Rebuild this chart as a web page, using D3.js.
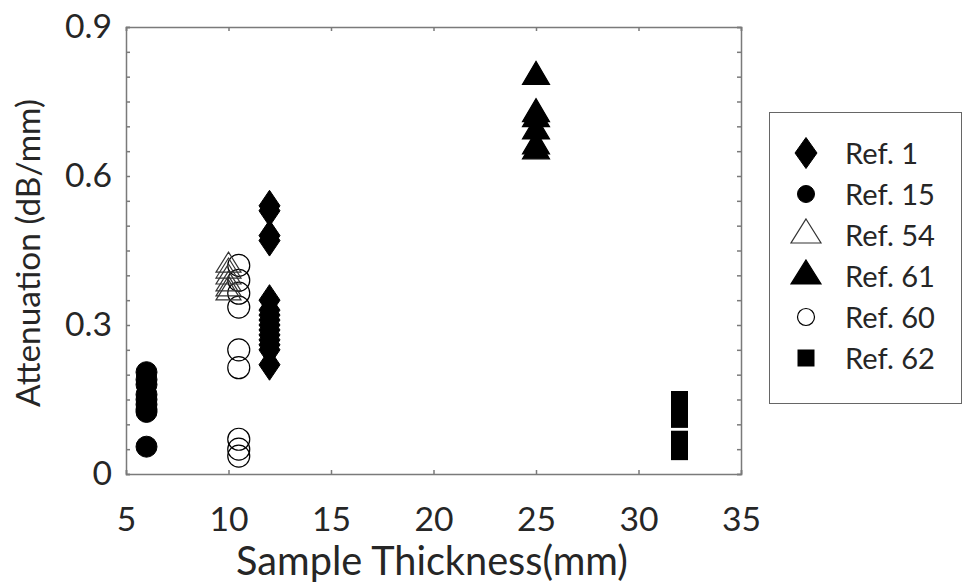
<!DOCTYPE html>
<html>
<head>
<meta charset="utf-8">
<script src="https://cdn.jsdelivr.net/npm/d3@7"></script>
<style>
  body { margin: 0; background: #fff; }
  text { font-family: Lato, "Noto Sans", sans-serif; fill: #262626; }
</style>
</head>
<body>
<script>
// data
var refNames = ['Ref. 1', 'Ref. 15', 'Ref. 54', 'Ref. 61', 'Ref. 60', 'Ref. 62']
var ref1X = 12
var ref1Y = [0.54, 0.53, 0.48, 0.47, 0.35, 0.33, 0.32, 0.31, 0.30, 0.29, 0.28, 0.27, 0.26, 0.25, 0.22]
var ref15X = 6
var ref15Y = [0.205, 0.19, 0.18, 0.16, 0.15, 0.14, 0.13, 0.125, 0.055]
var ref54X = 10
var ref54Y = [0.42, 0.408, 0.396, 0.382, 0.372, 0.364]
var ref61X = 25
var ref61Y = [0.8, 0.725, 0.715, 0.69, 0.66, 0.65]
var ref60X = 10.5
var ref60Y = [0.42, 0.39, 0.364, 0.336, 0.25, 0.214, 0.07, 0.05, 0.036]
var ref62X = 32
var ref62Y = [0.15, 0.13, 0.11, 0.07, 0.045]
var xTicks = [5, 10, 15, 20, 25, 30, 35]
var yTicks = [0, 0.3, 0.6, 0.9]

var width = 964, height = 585
var margin = {top: 27, right: 223, bottom: 111, left: 126}

var svg = d3.select('body').append('svg').attr('width', width).attr('height', height)

var x = d3.scaleLinear().domain([5, 35]).range([margin.left, width - margin.right])
var y = d3.scaleLinear().domain([0, 0.9]).range([height - margin.bottom, margin.top])

var axisColor = '#7a7a7a'

// scale a text's font size so it spans the given width
function fit(sel, target) {
	sel.each(function() {
		var t = d3.select(this)
		var fs = parseFloat(t.attr('font-size'))
		var w = this.getComputedTextLength()
		t.attr('font-size', fs * target / w)
	})
}

// marker shapes, drawn around 0,0
function diamond(g, w, h, fill) {
	g.append('path').attr('d', `M0,${-h/2}L${w/2},0L0,${h/2}L${-w/2},0Z`)
		.attr('fill', fill).attr('stroke', '#000').attr('stroke-width', 1)
}
function circle(g, r, fill) {
	g.append('circle').attr('r', r).attr('fill', fill).attr('stroke', '#000').attr('stroke-width', fill == 'none' ? 1.2 : 1)
}
function triangle(g, w, h, fill) {
	g.append('path').attr('d', `M0,${-h*2/3}L${w/2},${h/3}L${-w/2},${h/3}Z`)
		.attr('fill', fill).attr('stroke', fill == 'none' ? '#333' : '#000').attr('stroke-width', 1.2)
}
function square(g, s, fill) {
	g.append('rect').attr('x', -s/2).attr('y', -s/2).attr('width', s).attr('height', s).attr('fill', fill)
}

var series = [
	{xv: ref62X, ys: ref62Y, draw: function(g) { square(g, 17, '#000') }},
	{xv: ref60X, ys: ref60Y, draw: function(g) { circle(g, 11, 'none') }},
	{xv: ref54X, ys: ref54Y, draw: function(g) { triangle(g, 25, 20, 'none') }},
	{xv: ref15X, ys: ref15Y, draw: function(g) { circle(g, 10.5, '#000') }},
	{xv: ref61X, ys: ref61Y, draw: function(g) { triangle(g, 27, 23, '#000') }},
	{xv: ref1X, ys: ref1Y, draw: function(g) { diamond(g, 21, 31, '#000') }}
]

var plot = svg.append('g')
series.forEach(function(s) {
	plot.selectAll(null).data(s.ys).enter().append('g')
		.attr('transform', function(d) { return `translate(${x(s.xv)},${y(d)})` })
		.each(function() { s.draw(d3.select(this)) })
})

// axes box with inward ticks
var axes = svg.append('g')
var xAxis = axes.append('g').attr('transform', `translate(0,${y(0)})`)
	.call(d3.axisBottom(x).tickValues(xTicks).tickSize(-4).tickPadding(33).tickFormat(d3.format('d')))
axes.append('g').attr('transform', `translate(0,${y(0.9)})`)
	.call(d3.axisTop(x).tickValues(xTicks).tickSize(-4).tickFormat(''))
var yAxis = axes.append('g').attr('transform', `translate(${x(5)},0)`)
	.call(d3.axisLeft(y).tickValues(d3.range(0, 0.901, 0.05)).tickSize(-4).tickPadding(14)
		.tickFormat(function(d) { return yTicks.some(function(t) { return Math.abs(t - d) < 1e-6 }) ? (d == 0 ? '0' : d3.format('.1f')(d)) : '' }))
axes.append('g').attr('transform', `translate(${x(35)},0)`)
	.call(d3.axisRight(y).tickValues(d3.range(0, 0.901, 0.05)).tickSize(-4).tickFormat(''))
axes.selectAll('.domain').attr('stroke', axisColor).attr('stroke-width', 1.5)
axes.selectAll('.tick line').attr('stroke', axisColor).attr('stroke-width', 1.5)
axes.selectAll('.tick text').attr('font-size', 28).attr('fill', '#262626')
	.style('font-family', 'Lato, "Noto Sans", sans-serif')

// tick labels sized from "0.9", which is 47px wide
var probe = svg.append('text').text('0.9').attr('font-size', 28)
fit(probe, 47)
var tickSize = probe.attr('font-size')
probe.remove()
axes.selectAll('.tick text').attr('font-size', tickSize)

// axis titles
var xTitle = svg.append('text').text('Sample Thickness(mm)')
	.attr('x', 432).attr('y', 575).attr('text-anchor', 'middle').attr('font-size', 29)
fit(xTitle, 392)
var yTitle = svg.append('text').text('Attenuation (dB/mm)')
	.attr('transform', 'translate(40,253) rotate(-90)').attr('text-anchor', 'middle').attr('font-size', 29)
fit(yTitle, 308)

// legend
var legend = svg.append('g')
legend.append('rect').attr('x', 769.5).attr('y', 112.5).attr('width', 192).attr('height', 291)
	.attr('fill', '#fff').attr('stroke', '#666').attr('stroke-width', 1)
var legendDraw = [
	function(g) { diamond(g, 22, 31, '#000') },
	function(g) { circle(g, 8.5, '#000') },
	function(g) { triangle(g, 30, 24, 'none') },
	function(g) { triangle(g, 30, 24, '#000') },
	function(g) { circle(g, 8.5, 'none') },
	function(g) { square(g, 17, '#000') }
]
var rows = legend.selectAll('g.row').data(refNames).enter().append('g').attr('class', 'row')
	.attr('transform', function(d, i) { return `translate(0,${153 + i * 41})` })
rows.each(function(d, i) {
	var g = d3.select(this).append('g').attr('transform', 'translate(806,0)')
	legendDraw[i](g)
})
var probe2 = svg.append('text').text('Ref. 15').attr('font-size', 28)
fit(probe2, 90)
var legendSize = probe2.attr('font-size')
probe2.remove()
rows.append('text').text(function(d) { return d }).attr('x', 845).attr('y', 11).attr('font-size', legendSize)
</script>
</body>
</html>
